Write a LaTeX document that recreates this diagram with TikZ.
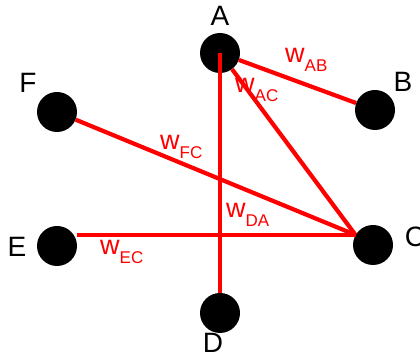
\documentclass[tikz,border=0pt]{standalone}
\usepackage{fontspec}
\setmainfont{Liberation Sans}
\tikzset{
  dot/.style={circle,fill=black,minimum size=40pt,inner sep=0pt},
  lett/.style={font=\fontsize{28}{28}\selectfont,text=black,inner sep=0pt},
  wlab/.style={anchor=base west,inner sep=0pt,text=red},
  edge/.style={red,line width=4.2pt}
}
\newcommand{\wsub}[1]{{\fontsize{27}{27}\selectfont w}{\fontsize{17}{17}\selectfont\raisebox{-9pt}{#1}}}
\begin{document}
\begin{tikzpicture}[x=1pt,y=1pt]
\useasboundingbox (0,0) rectangle (420,352);
\node[dot] (A) at (220,299) {};
\node[dot] (B) at (375,242) {};
\node[dot] (F) at (57,240) {};
\node[dot] (E) at (57,106) {};
\node[dot] (C) at (373,107) {};
\node[dot] (D) at (220,39) {};
\node[lett] (lA) at (220,336) {A};
\node[lett] (lB) at (403,270) {B};
\node[lett] (lF) at (28,269) {F};
\node[lett] (lE) at (17,105) {E};
\node[lett] (lC) at (415,115) {C};
\node[lett] (lD) at (213,9) {D};
\draw[edge] (A) -- (B);
\draw[edge] (A) -- (C.150);
\draw[edge] (A.center) -- (D);
\draw[edge] (F) -- (C.150);
\draw[edge] (E.east |- C.150) -- (C.150);
\node[wlab] (wAB) at (285,289) {\wsub{AB}};
\node[wlab] (wAC) at (235,259) {\wsub{AC}};
\node[wlab] (wFC) at (160,202) {\wsub{FC}};
\node[wlab] (wDA) at (226,134) {\wsub{DA}};
\node[wlab] (wEC) at (100,97) {\wsub{EC}};
\end{tikzpicture}
\end{document}
